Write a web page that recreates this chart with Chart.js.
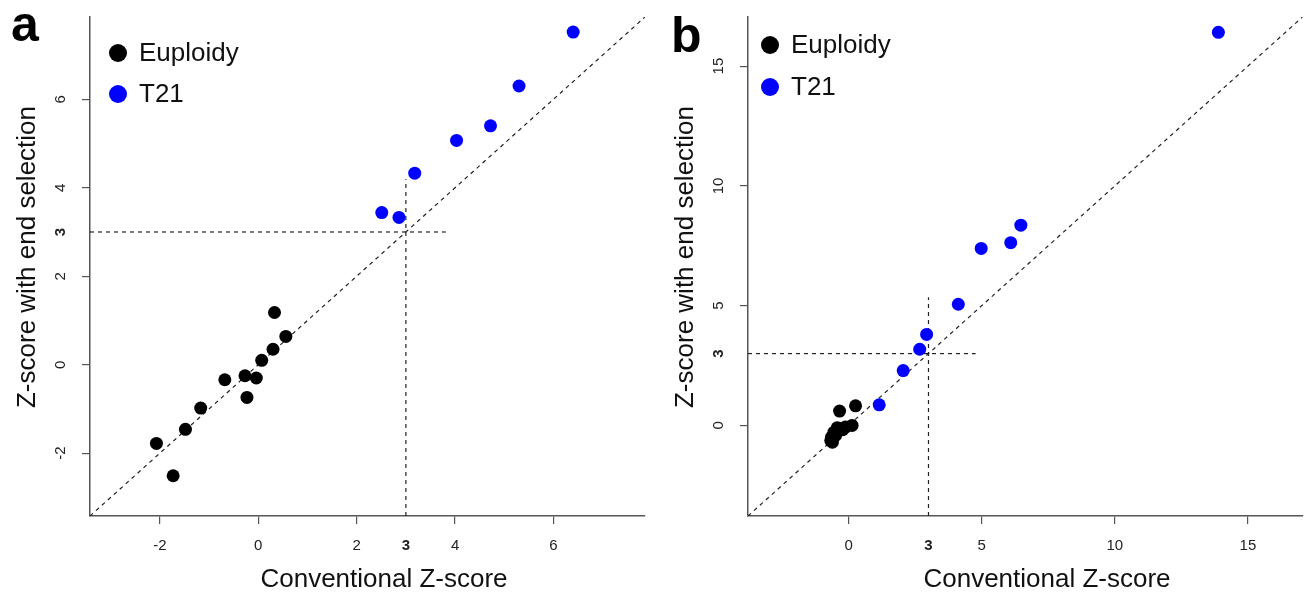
<!DOCTYPE html>
<html>
<head>
<meta charset="utf-8">
<script src="https://cdn.jsdelivr.net/npm/chart.js@4.4.1/dist/chart.umd.min.js"></script>
<style>
  html, body { margin: 0; padding: 0; background: #fff; overflow: hidden; }
  #wrap { position: relative; width: 1307px; height: 599px; }
  canvas { position: absolute; top: 0; }
  #panelA { left: 0; }
  #panelB { left: 655px; }
</style>
</head>
<body>
<div id="wrap">
  <canvas id="panelA" width="655" height="599"></canvas>
  <canvas id="panelB" width="654" height="599"></canvas>
</div>
<script>
const FONT = '"Liberation Sans", Arial, Helvetica, sans-serif';
const threshold = 3;

// panel a : conventional Z-score (x) vs Z-score with end selection (y)
const euploidXA = [0.33, 0.56, 0.30, 0.07, -0.27, -0.04, -0.68, -0.23, -1.17, -1.48, -2.07, -1.73];
const euploidYA = [1.18, 0.64, 0.35, 0.10, -0.25, -0.30, -0.34, -0.74, -0.98, -1.46, -1.78, -2.51];
const t21XA = [6.40, 5.30, 4.72, 4.03, 3.18, 2.51, 2.86];
const t21YA = [7.52, 6.30, 5.40, 5.07, 4.33, 3.44, 3.33];
const ticksA = [-2, 0, 2, 3, 4, 6];
const rangeA = [-3.42, 7.86];
const cutoffEndA = { vertical: 4.19, horizontal: 3.81 };

// panel b
const euploidXB = [-0.34, 0.26, 0.13, -0.22, -0.43, -0.55, -0.64, -0.61, -0.30, -0.67, -0.49, -0.12];
const euploidYB = [0.60, 0.82, 0.00, -0.18, -0.10, -0.28, -0.49, -0.70, -0.14, -0.63, -0.42, -0.07];
const t21XB = [13.89, 6.47, 6.09, 4.98, 4.12, 2.93, 2.67, 2.05, 1.15];
const t21YB = [16.41, 8.36, 7.63, 7.39, 5.06, 3.80, 3.18, 2.29, 0.86];
const ticksB = [0, 3, 5, 10, 15];
const rangeB = [-3.78, 17.05];
const cutoffEndB = { vertical: 5.35, horizontal: 4.77 };

const seriesNames = ['Euploidy', 'T21'];
const seriesColors = ['#000000', '#0000ff'];

function pts(xs, ys) {
  return xs.map((x, i) => ({ x: x, y: ys[i] }));
}

const panelDecor = {
  id: 'panelDecor',
  afterDraw(chart, args, o) {
    const c = chart.ctx;
    const area = chart.chartArea;
    const ys = chart.scales.y;
    c.save();
    c.fillStyle = '#222';
    c.textAlign = 'center';
    c.textBaseline = 'middle';
    // rotated y tick labels
    o.yTicks.forEach(v => {
      c.save();
      c.translate(area.left - 30, ys.getPixelForValue(v));
      c.rotate(-Math.PI / 2);
      c.font = (v === threshold ? 'bold ' : '') + '15px ' + FONT;
      c.fillText(String(v), 0, 1);
      c.restore();
    });
    // axis titles
    c.fillStyle = '#111';
    c.font = '26px ' + FONT;
    c.fillText('Conventional Z-score', o.xTitle[0], o.xTitle[1]);
    c.save();
    c.translate(o.yTitle[0], o.yTitle[1]);
    c.rotate(-Math.PI / 2);
    c.fillText('Z-score with end selection', 0, 0);
    c.restore();
    // panel letter
    c.fillStyle = '#000';
    c.textAlign = 'left';
    c.textBaseline = 'alphabetic';
    c.font = 'bold 50px ' + FONT;
    c.fillText(o.letter, o.letterPos[0], o.letterPos[1]);
    // legend
    c.font = '26px ' + FONT;
    c.textBaseline = 'middle';
    seriesNames.forEach((name, i) => {
      const ly = o.legend[1] + i * o.legend[3];
      c.fillStyle = seriesColors[i];
      c.beginPath();
      c.arc(o.legend[0], ly, 9, 0, Math.PI * 2);
      c.fill();
      c.fillStyle = '#111';
      c.fillText(name, o.legend[2], ly + 1);
    });
    c.restore();
  }
};

function makeChart(id, d) {
  const lo = d.range[0], hi = d.range[1];
  const dashed = { type: 'line', borderColor: '#222', borderWidth: 1.2, borderDash: [4, 4],
                   pointRadius: 0, fill: false, order: 5 };
  const axis = (ticks, isY) => ({
    type: 'linear',
    min: lo,
    max: hi,
    afterBuildTicks: s => { s.ticks = ticks.map(v => ({ value: v })); },
    afterFit: s => { if (isY) s.width = d.yWidth; else s.height = 83; },
    border: { display: true, color: '#555', width: 1.5 },
    grid: {
      drawOnChartArea: false,
      drawTicks: true,
      tickLength: 8,
      lineWidth: 1.2,
      color: ctx => (ctx.tick && ctx.tick.value === threshold) ? 'rgba(0,0,0,0)' : '#555'
    },
    ticks: {
      display: !isY,
      padding: 13,
      color: '#222',
      maxRotation: 0,
      font: ctx => ({ family: FONT, size: 15,
                      weight: (ctx.tick && ctx.tick.value === threshold) ? 'bold' : 'normal' })
    }
  });
  return new Chart(document.getElementById(id), {
    type: 'scatter',
    data: {
      datasets: [
        { label: seriesNames[1], data: pts(d.t21X, d.t21Y), backgroundColor: seriesColors[1],
          borderWidth: 0, pointRadius: 6.5, order: 1 },
        { label: seriesNames[0], data: pts(d.eupX, d.eupY), backgroundColor: seriesColors[0],
          borderWidth: 0, pointRadius: 6.5, order: 2 },
        Object.assign({ data: [{ x: lo, y: lo }, { x: hi, y: hi }] }, dashed),
        Object.assign({ data: [{ x: threshold, y: lo }, { x: threshold, y: d.cutoff.vertical }] }, dashed),
        Object.assign({ data: [{ x: lo, y: threshold }, { x: d.cutoff.horizontal, y: threshold }] }, dashed)
      ]
    },
    options: {
      responsive: false,
      animation: false,
      layout: { padding: { top: 17, right: d.padRight, left: 0, bottom: 0 } },
      scales: { x: axis(d.ticks, false), y: axis(d.ticks, true) },
      plugins: {
        legend: { display: false },
        tooltip: { enabled: false },
        panelDecor: d.decor
      }
    },
    plugins: [panelDecor]
  });
}

makeChart('panelA', {
  t21X: t21XA, t21Y: t21YA, eupX: euploidXA, eupY: euploidYA,
  ticks: ticksA, range: rangeA, cutoff: cutoffEndA, yWidth: 90, padRight: 10,
  decor: { yTicks: ticksA, xTitle: [384, 580], yTitle: [28, 257], letter: 'a',
           letterPos: [11, 41], legend: [118, 53, 139, 41] }
});

makeChart('panelB', {
  t21X: t21XB, t21Y: t21YB, eupX: euploidXB, eupY: euploidYB,
  ticks: ticksB, range: rangeB, cutoff: cutoffEndB, yWidth: 93, padRight: 0,
  decor: { yTicks: ticksB, xTitle: [392, 580], yTitle: [31, 257], letter: 'b',
           letterPos: [16, 52], legend: [115, 45, 136, 42] }
});
</script>
</body>
</html>
